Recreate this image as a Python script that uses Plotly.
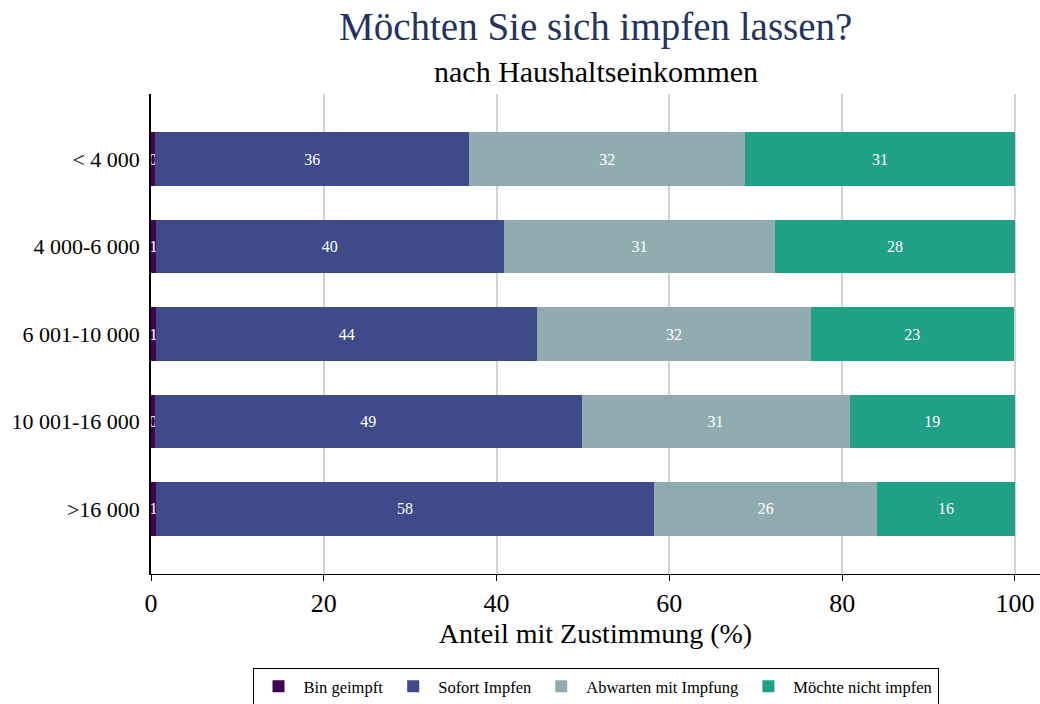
import plotly.graph_objects as go

categories = ["< 4 000", "4 000-6 000", "6 001-10 000", "10 001-16 000", ">16 000"]
bin_geimpft = [0.45, 0.55, 0.6, 0.45, 0.55]
sofort = [36.4, 40.3, 44.1, 49.4, 57.7]
abwarten = [31.9, 31.4, 31.7, 31.0, 25.8]
nicht = [31.25, 27.75, 23.45, 19.15, 15.95]

series = [
    ("Bin geimpft", bin_geimpft, "#440154"),
    ("Sofort Impfen", sofort, "#3f4a8a"),
    ("Abwarten mit Impfung", abwarten, "#91acb0"),
    ("Möchte nicht impfen", nicht, "#20a087"),
]

fig = go.Figure()
for name, vals, col in series:
    fig.add_trace(go.Bar(
        y=categories, x=vals, name=name, orientation="h",
        marker=dict(color=col, line=dict(width=0)),
        text=[f"{v:.0f}" for v in vals],
        textposition="inside", insidetextanchor="middle",
        constraintext="none",
        textfont=dict(color="white", size=16, family="Liberation Serif"),
    ))

T, B = 94, 130
ph = 704 - T - B

fig.update_layout(
    barmode="stack",
    bargap=0.39,
    width=1040, height=704,
    paper_bgcolor="white", plot_bgcolor="white",
    font=dict(family="Liberation Serif", color="black"),
    margin=dict(l=151, r=0, t=T, b=B, autoexpand=False),
    showlegend=True,
    legend=dict(orientation="h", x=0.5, xanchor="center", y=-(668 - 574) / ph, yanchor="top",
                bordercolor="black", borderwidth=1, font=dict(size=16.5),
                itemwidth=40, traceorder="normal"),
    annotations=[
        dict(text="Möchten Sie sich impfen lassen?", x=0.5, xref="paper", xanchor="center",
             y=1 + (T - 27) / ph, yref="paper", yanchor="middle", showarrow=False,
             font=dict(size=39, color="#243460", family="Liberation Serif")),
        dict(text="nach Haushaltseinkommen", x=0.5, xref="paper", xanchor="center",
             y=1 + (T - 71) / ph, yref="paper", yanchor="middle", showarrow=False,
             font=dict(size=30, color="black", family="Liberation Serif")),
    ],
)

fig.update_xaxes(
    range=[0, 102.9], tickvals=[0, 20, 40, 60, 80, 100],
    automargin=False,
    showgrid=True, gridcolor="#d3d3d3", gridwidth=2,
    showline=True, linecolor="black", linewidth=1,
    ticks="outside", ticklen=6, tickcolor="black",
    tickfont=dict(size=26), zeroline=False,
    title=dict(text="Anteil mit Zustimmung (%)", font=dict(size=28), standoff=4),
)
fig.update_yaxes(
    categoryorder="array", categoryarray=categories,
    range=[4.745, -0.745], automargin=False,
    showline=True, linecolor="black", linewidth=1.5,
    ticks="", tickfont=dict(size=22), ticklabelstandoff=5,
    showgrid=False,
)

fig.write_html("out.html", config={"displayModeBar": False},
               post_script="document.body.style.margin='0';document.body.style.overflow='hidden';")
